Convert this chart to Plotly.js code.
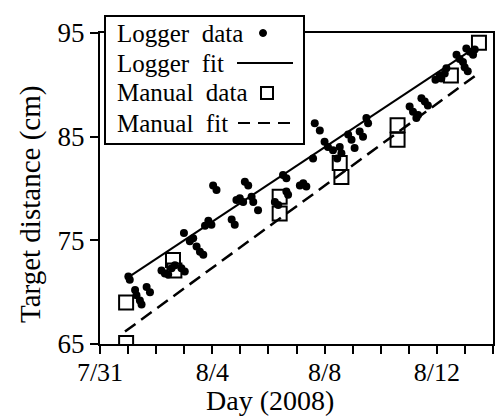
<!DOCTYPE html>
<html>
<head>
<meta charset="utf-8">
<script src="https://cdn.plot.ly/plotly-3.0.1.min.js"></script>
<style>html,body{margin:0;padding:0;background:#fff;}#chart{width:495px;height:417px;}</style>
</head>
<body>
<div id="chart"></div>
<script>
// Days after 7/31/2008 (x) and target distance in cm (y)
var loggerDay = [1.01,1.06,1.25,1.30,1.42,1.48,1.66,1.78,2.19,2.31,2.43,2.55,2.67,2.90,3.02,
  2.99,3.20,3.32,3.44,3.56,3.68,3.74,3.86,3.97,4.03,4.15,4.69,4.80,4.86,4.98,5.10,5.16,5.28,5.40,5.46,5.63,
  6.23,6.35,6.52,6.64,6.64,6.70,7.12,7.24,7.35,7.59,7.65,7.83,8.00,8.12,8.30,8.45,8.54,8.60,8.84,8.96,9.07,
  9.25,9.37,9.49,9.55,11.03,11.15,11.27,11.33,11.45,11.57,11.68,11.95,12.10,12.16,12.28,12.34,12.70,12.81,
  12.93,12.99,13.05,13.10,13.17,13.29,13.35];
var loggerVal = [71.5,71.2,70.2,69.7,69.2,68.8,70.5,70.0,72.1,71.8,71.7,72.3,72.6,72.3,72.0,
  75.7,74.9,75.2,74.4,73.9,73.6,76.4,76.9,76.5,80.3,79.85,77.0,76.5,78.9,79.05,78.7,80.65,80.3,79.2,78.7,77.9,
  78.7,78.4,81.3,81.0,79.7,79.4,80.3,80.5,80.2,82.9,86.3,85.6,84.5,84.0,83.7,82.9,84.0,83.4,85.2,84.7,83.9,
  85.5,85.0,86.8,86.3,87.9,87.4,86.8,87.1,88.7,88.4,88.0,90.5,90.9,90.6,91.1,91.6,92.9,92.5,
  92.2,91.7,93.5,91.3,93.2,92.9,93.4];
var manualDay = [0.93,0.93,2.60,2.65,6.40,6.40,8.54,8.60,10.60,10.60,12.50,13.50];
var manualVal = [69.0,65.1,73.1,72.1,79.2,77.6,82.45,81.1,86.1,84.7,90.9,94.05];
var loggerFitDay = [0.99,13.20];
var loggerFitVal = [71.4,93.3];
var manualFitDay = [0.89,13.38];
var manualFitVal = [66.2,90.9];
var tickDays = [0,4,8,12];
var tickLabels = ['7/31','8/4','8/8','8/12'];
var yTicks = [65,75,85,95];
var legendLabels = ['Logger  data','Logger  fit','Manual  data','Manual  fit'];
var xTitle = 'Day (2008)';
var yTitle = 'Target distance (cm)';

var serif = 'Liberation Serif, Times New Roman, serif';

var traces = [
  {x: loggerFitDay, y: loggerFitVal, mode: 'lines', line: {color: '#000', width: 2}, hoverinfo: 'skip'},
  {x: manualFitDay, y: manualFitVal, mode: 'lines', line: {color: '#000', width: 2.5, dash: '13px,7px'}, hoverinfo: 'skip'},
  {x: loggerDay, y: loggerVal, mode: 'markers', marker: {symbol: 'circle', size: 8, color: '#000'}},
  {x: manualDay, y: manualVal, mode: 'markers', marker: {symbol: 'square-open', size: 14, color: '#000', line: {width: 2, color: '#000'}}}
];

// Legend drawn in paper coordinates, text left, symbol right
function px(x){ return (x-100)/393; }
function py(y){ return (344-y)/311; }
var rows = [33,63,93,123];
var shapes = [
  {type:'rect', xref:'paper', yref:'paper', x0:px(105), x1:px(304), y0:py(144), y1:py(16), fillcolor:'#fff', line:{color:'#000', width:2}, layer:'above'},
  {type:'circle', xref:'paper', yref:'paper', x0:px(259.5), x1:px(266.5), y0:py(rows[0]+3.5), y1:py(rows[0]-3.5), fillcolor:'#000', line:{color:'#000', width:1}, layer:'above'},
  {type:'line', xref:'paper', yref:'paper', x0:px(237), x1:px(293), y0:py(rows[1]), y1:py(rows[1]), line:{color:'#000', width:2}, layer:'above'},
  {type:'rect', xref:'paper', yref:'paper', x0:px(261), x1:px(273), y0:py(rows[2]+6), y1:py(rows[2]-6), fillcolor:'rgba(0,0,0,0)', line:{color:'#000', width:2}, layer:'above'},
  {type:'line', xref:'paper', yref:'paper', x0:px(238), x1:px(293), y0:py(rows[3]), y1:py(rows[3]), line:{color:'#000', width:2, dash:'12px,8px'}, layer:'above'}
];
var annotations = legendLabels.map(function(t,i){
  return {text: t, xref:'paper', yref:'paper', x: px(115), y: py(rows[i]), xanchor:'left', yanchor:'middle', showarrow:false, font:{family: serif, size: 25, color:'#000'}};
});
annotations.push({text: xTitle, xref:'paper', yref:'paper', x: px(270), y: py(400), xanchor:'center', yanchor:'middle', showarrow:false, font:{family: serif, size: 28, color:'#000'}});
annotations.push({text: yTitle, xref:'paper', yref:'paper', x: px(30), y: py(205), xanchor:'center', yanchor:'middle', textangle: -90, showarrow:false, font:{family: serif, size: 29, color:'#000'}});

var layout = {
  width: 495, height: 417,
  margin: {l: 100, r: 2, t: 33, b: 73, pad: 0},
  paper_bgcolor: '#fff', plot_bgcolor: '#fff',
  showlegend: false,
  font: {family: serif, color: '#000'},
  xaxis: {
    range: [0, 14], showgrid: false, zeroline: false,
    showline: true, linecolor: '#000', linewidth: 2, mirror: true,
    ticks: 'outside', ticklen: 8, tickwidth: 2, tickcolor: '#000',
    tickvals: tickDays, ticktext: tickLabels, ticklabelstandoff: -4,
    tickfont: {family: serif, size: 26, color: '#000'},
    minor: {dtick: 1, ticks: 'outside', ticklen: 8, tickwidth: 2, tickcolor: '#000', showgrid: false}
  },
  yaxis: {
    range: [65, 95], showgrid: false, zeroline: false,
    showline: true, linecolor: '#000', linewidth: 2, mirror: true,
    ticks: 'outside', ticklen: 8, tickwidth: 2, tickcolor: '#000',
    tickvals: yTicks,
    tickfont: {family: serif, size: 27, color: '#000'}
  },
  shapes: shapes,
  annotations: annotations
};

Plotly.newPlot('chart', traces, layout, {staticPlot: true, displayModeBar: false});
</script>
</body>
</html>
